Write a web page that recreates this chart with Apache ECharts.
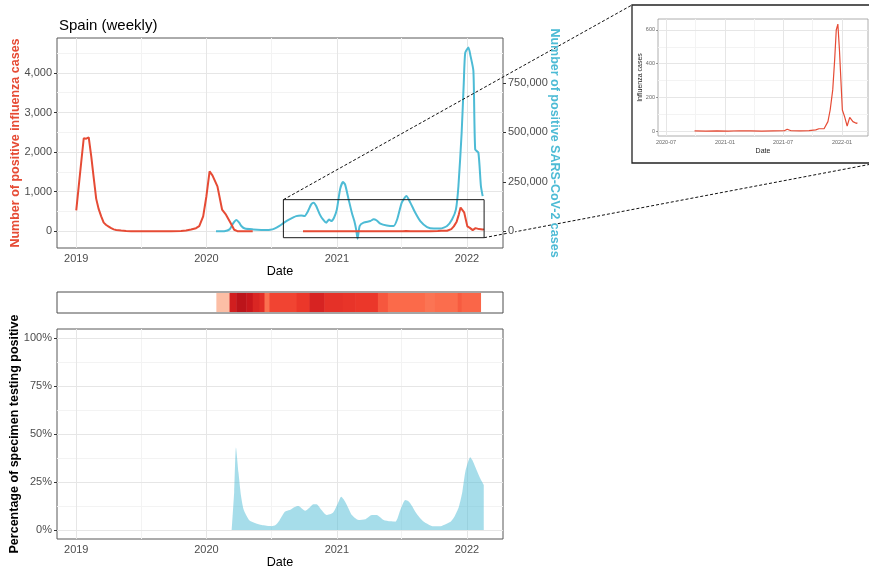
<!DOCTYPE html>
<html><head><meta charset="utf-8">
<script src="https://cdn.jsdelivr.net/npm/echarts@6/dist/echarts.min.js"></script>
<style>html,body{margin:0;padding:0;background:#fff}#c{width:869px;height:570px}</style>
</head><body><div id="c"></div>
<script>
// ---------------- DATA ----------------
const fluCases = [
 ['2019-01-01',530],['2019-01-08',1140],['2019-01-15',1750],['2019-01-22',2350],['2019-01-29',2340],['2019-02-05',2370],
 ['2019-02-12',1900],['2019-02-19',1350],['2019-02-26',820],['2019-03-05',560],['2019-03-12',380],['2019-03-19',220],
 ['2019-03-26',160],['2019-04-02',120],['2019-04-09',80],['2019-04-16',50],['2019-04-23',35],['2019-05-07',20],
 ['2019-05-21',10],['2019-06-04',5],['2019-07-02',3],['2019-08-13',2],['2019-09-24',4],['2019-10-22',10],
 ['2019-11-05',20],['2019-11-19',45],['2019-12-03',80],['2019-12-12',130],['2019-12-23',380],['2020-01-01',880],
 ['2020-01-10',1515],['2020-01-18',1415],['2020-02-01',1135],['2020-02-14',550],['2020-02-25',420],['2020-03-09',210],
 ['2020-03-19',40],['2020-03-28',5],['2020-04-20',2],['2020-05-10',3],['2020-06-01',null],
 ['2020-09-28',2],['2020-11-02',1],['2020-12-07',2],['2021-01-11',1],['2021-02-15',3],['2021-03-22',2],
 ['2021-04-26',1],['2021-05-31',2],['2021-07-05',3],['2021-07-14',12],['2021-07-26',3],['2021-08-23',2],
 ['2021-09-20',4],['2021-10-11',8],['2021-10-21',15],['2021-11-06',15],['2021-11-18',57],['2021-11-25',126],
 ['2021-12-03',245],['2021-12-09',423],['2021-12-14',600],['2021-12-19',635],['2021-12-24',480],['2022-01-02',126],
 ['2022-01-09',87],['2022-01-17',31],['2022-01-25',82],['2022-02-04',57],['2022-02-14',47],['2022-02-18',50]
];
const covidCases = [
 ['2020-01-28',0],['2020-02-20',1000],['2020-03-06',10000],['2020-03-16',40000],['2020-03-25',57000],['2020-04-02',44000],
 ['2020-04-08',27000],['2020-04-18',14000],['2020-05-11',10000],['2020-06-18',7000],['2020-06-28',8000],['2020-07-10',14000],
 ['2020-07-24',28000],['2020-08-07',45000],['2020-08-21',60000],['2020-09-09',77000],['2020-09-23',80000],['2020-10-02',77000],
 ['2020-10-12',102000],['2020-10-21',136000],['2020-10-28',145000],['2020-11-04',128000],['2020-11-14',86000],['2020-11-23',60000],
 ['2020-12-02',44000],['2020-12-10',60000],['2020-12-16',52000],['2020-12-24',69000],['2021-01-01',111000],['2021-01-10',212000],
 ['2021-01-18',249000],['2021-01-24',237000],['2021-02-03',161000],['2021-02-12',94000],['2021-02-19',52000],['2021-02-24',10000],
 ['2021-02-28',-37000],['2021-03-06',27000],['2021-03-17',44000],['2021-04-05',52000],['2021-04-14',61000],['2021-04-22',56000],
 ['2021-05-03',39000],['2021-05-21',30000],['2021-06-09',27000],['2021-06-19',60000],['2021-07-02',145000],['2021-07-15',178000],
 ['2021-07-26',145000],['2021-08-09',94000],['2021-08-23',52000],['2021-09-11',22000],['2021-09-30',14000],['2021-10-18',14000],
 ['2021-11-06',27000],['2021-11-20',60000],['2021-12-01',111000],['2021-12-08',229000],['2021-12-17',498000],['2021-12-23',751000],
 ['2021-12-27',902000],['2022-01-05',928000],['2022-01-11',885000],['2022-01-19',810000],['2022-01-24',414000],['2022-02-02',397000],
 ['2022-02-09',229000],['2022-02-14',178000]
];
const positivity = [
 ['2020-03-12',0],['2020-03-19',20],['2020-03-24',43],['2020-03-31',30],['2020-04-07',18],['2020-04-14',11],['2020-04-21',8],
 ['2020-05-01',5],['2020-05-18',3.5],['2020-06-04',2.6],['2020-07-02',2],['2020-07-13',2.6],['2020-07-24',5],['2020-08-08',9.5],
 ['2020-08-22',10.4],['2020-09-05',12],['2020-09-15',12.5],['2020-10-04',10],['2020-10-15',11.5],['2020-10-27',13.5],
 ['2020-11-05',13.5],['2020-11-19',10.4],['2020-12-03',7.8],['2020-12-21',9],['2021-01-04',14],['2021-01-13',17.4],
 ['2021-01-20',16],['2021-01-29',13],['2021-02-12',7.8],['2021-03-03',5.2],['2021-03-22',5.6],['2021-04-09',7.8],
 ['2021-04-23',7.8],['2021-05-12',5.2],['2021-05-31',4.5],['2021-06-14',4.3],['2021-06-20',6],['2021-06-28',10.4],
 ['2021-07-12',15.6],['2021-07-22',14.8],['2021-07-31',12.5],['2021-08-09',9.5],['2021-08-21',6.5],['2021-09-02',4.3],
 ['2021-09-26',2],['2021-10-19',2],['2021-11-02',3],['2021-11-16',4.3],['2021-11-27',7],['2021-12-09',12],['2021-12-19',20],
 ['2021-12-28',31],['2022-01-10',38],['2022-01-16',36.5],['2022-01-24',33],['2022-02-07',27],['2022-02-17',23.5]
];
// strip: segment starts and levels
const stripStart = ['2020-01-29','2020-03-06','2020-03-25','2020-04-22','2020-05-10','2020-05-29','2020-06-12','2020-06-26',
 '2020-09-10','2020-10-16','2020-11-27','2021-01-18','2021-02-21','2021-04-26','2021-05-24','2021-09-05','2021-10-03',
 '2021-12-06','2021-12-17'];
const stripEndLast = '2022-02-08';
const stripLevel = [24,73,80,76,70,67,48,60,64,71,66,65,64,55,50,47,49,54,51];

const yearTicks = ['2019-01-01','2020-01-01','2021-01-01','2022-01-01'];
const halfYearLines = ['2019-07-02','2020-07-01','2021-07-02'];
const fluTicks = [0,1000,2000,3000,4000];
const fluMinor = [500,1500,2500,3500,4500];
const covidTicks = [0,250000,500000,750000];
const pctTicks = [0,25,50,75,100];
const pctMinor = [12.5,37.5,62.5,87.5];
const insetXTicks = ['2020-07-01','2021-01-01','2021-07-01','2022-01-01'];
const insetXMinor = ['2020-10-01','2021-04-01','2021-10-01'];
const insetYTicks = [0,200,400,600];
const insetYMinor = [100,300,500];
const zoomBoxX = ['2020-08-04','2022-02-18'];
const zoomBoxY = [-160, 800];

// ---------------- CHART ----------------
const ts = s => { const p = s.split('-').map(Number); return new Date(p[0], p[1] - 1, p[2]).getTime(); };
const toXY = arr => arr.map(d => [ts(d[0]), d[1]]);
const FONT = 'Liberation Sans, Arial, Helvetica, sans-serif';
const RED = '#E64B35', BLUE = '#4DBBD5';
const BORDER = '#595959', TICK = '#333333', LABEL = '#4d4d4d';
const majorStyle = {color:'#e6e6e6', width:1, type:'solid'};
const minorStyle = {color:'#f3f3f3', width:1, type:'solid'};
const X0 = ts('2018-11-08'), X1 = ts('2022-04-12');

function gridMarks(xMaj, xMin, yMaj, yMin) {
  const d = [];
  xMin.forEach(v => d.push({xAxis: ts(v), lineStyle: minorStyle}));
  yMin.forEach(v => d.push({yAxis: v, lineStyle: minorStyle}));
  xMaj.forEach(v => d.push({xAxis: ts(v), lineStyle: majorStyle}));
  yMaj.forEach(v => d.push({yAxis: v, lineStyle: majorStyle}));
  return {silent: true, symbol: ['none','none'], label: {show: false}, animation: false, z: 1,
          emphasis: {disabled: true}, data: d};
}
const yearFmt = v => String(new Date(v).getFullYear());
const ymFmt = v => { const d = new Date(v); return d.getFullYear() + '-' + String(d.getMonth()+1).padStart(2,'0'); };
const commaFmt = v => Number(v).toLocaleString('en-US');

function mainX(gi, showLabels) {
  return {
    gridIndex: gi, type: 'value', min: X0, max: X1,
    axisLine: {show: false}, splitLine: {show: false}, minorTick: {show: false},
    axisTick: {show: showLabels, length: 3, customValues: yearTicks.map(ts), lineStyle: {color: TICK}},
    axisLabel: {show: showLabels, customValues: yearTicks.map(ts), formatter: yearFmt, color: LABEL, fontSize: 11, margin: 5, fontFamily: FONT},
    name: showLabels ? 'Date' : '', nameLocation: 'middle', nameGap: 17, nameMoveOverlap: false,
    nameTextStyle: {color: '#000', fontSize: 12.6, fontFamily: FONT}
  };
}
const gridBase = {show: true, backgroundColor: 'transparent', containLabel: false, outerBoundsMode: 'none'};

const stripData = stripStart.map((s, i) => [ts(s), ts(i + 1 < stripStart.length ? stripStart[i+1] : stripEndLast), stripLevel[i]]);
const insetFlu = toXY(fluCases.filter(d => d[1] !== null && ts(d[0]) >= ts('2020-09-28')));

const chart = echarts.init(document.getElementById('c'));
chart.setOption({
  animation: false,
  backgroundColor: '#fff',
  textStyle: {fontFamily: FONT},
  title: {text: 'Spain (weekly)', left: 54, top: 13, textStyle: {fontSize: 15, fontWeight: 'normal', color: '#000', fontFamily: FONT}},
  grid: [
    Object.assign({left: 57, top: 38, width: 446, height: 210, borderColor: BORDER, borderWidth: 1}, gridBase),
    Object.assign({left: 57, top: 292, width: 446, height: 21, borderColor: '#4d4d4d', borderWidth: 1}, gridBase),
    Object.assign({left: 57, top: 329, width: 446, height: 210, borderColor: BORDER, borderWidth: 1}, gridBase),
    Object.assign({left: 658, top: 19, width: 210, height: 117, borderColor: '#9a9a9a', borderWidth: 0.8}, gridBase)
  ],
  xAxis: [
    mainX(0, true),
    mainX(1, false),
    mainX(2, true),
    {gridIndex: 3, type: 'value', min: ts('2020-06-06'), max: ts('2022-03-23'),
     axisLine: {show: false}, splitLine: {show: false},
     axisTick: {length: 2, customValues: insetXTicks.map(ts), lineStyle: {color: '#555', width: 0.6}},
     axisLabel: {customValues: insetXTicks.map(ts), formatter: ymFmt, color: '#666', fontSize: 5.5, margin: 3},
     name: 'Date', nameLocation: 'middle', nameGap: 12, nameMoveOverlap: false, nameTextStyle: {color: '#222', fontSize: 7}}
  ],
  yAxis: [
    {gridIndex: 0, type: 'value', min: -420, max: 4880, position: 'left',
     axisLine: {show: false}, splitLine: {show: false},
     axisTick: {show: true, length: 3, customValues: fluTicks, lineStyle: {color: TICK}},
     axisLabel: {customValues: fluTicks, formatter: commaFmt, color: LABEL, fontSize: 11, margin: 5},
     name: 'Number of positive influenza cases', nameLocation: 'middle', nameGap: 35, nameMoveOverlap: false,
     nameTextStyle: {color: RED, fontSize: 12.5, fontWeight: 'bold'}},
    {gridIndex: 0, type: 'value', min: -84050, max: 976550, position: 'right', z: 10,
     axisLine: {show: false}, splitLine: {show: false},
     axisTick: {show: true, length: 3, customValues: covidTicks, lineStyle: {color: TICK}},
     axisLabel: {customValues: covidTicks, formatter: commaFmt, color: LABEL, fontSize: 11, margin: 4,
                 backgroundColor: '#fff', padding: [0, 1]},
     name: 'Number of positive SARS-CoV-2 cases', nameLocation: 'middle', nameGap: 45, nameRotate: -90, nameMoveOverlap: false,
     nameTextStyle: {color: BLUE, fontSize: 12.5, fontWeight: 'bold'}},
    {gridIndex: 1, type: 'value', min: -0.05, max: 1.05, show: false},
    {gridIndex: 2, type: 'value', min: -4.7, max: 104.9,
     axisLine: {show: false}, splitLine: {show: false},
     axisTick: {show: true, length: 3, customValues: pctTicks, lineStyle: {color: TICK}},
     axisLabel: {customValues: pctTicks, formatter: v => v + '%', color: LABEL, fontSize: 11, margin: 5},
     name: 'Percentage of specimen testing positive', nameLocation: 'middle', nameGap: 36, nameMoveOverlap: false,
     nameTextStyle: {color: '#000', fontSize: 12.5, fontWeight: 'bold'}},
    {gridIndex: 3, type: 'value', min: -28, max: 665,
     axisLine: {show: false}, splitLine: {show: false},
     axisTick: {length: 2, customValues: insetYTicks, lineStyle: {color: '#555', width: 0.6}},
     axisLabel: {customValues: insetYTicks, color: '#666', fontSize: 5.5, margin: 3},
     name: 'Influenza cases', nameLocation: 'middle', nameGap: 14, nameMoveOverlap: false, nameTextStyle: {color: '#222', fontSize: 7}}
  ],
  visualMap: [{type: 'continuous', show: false, seriesIndex: 2, dimension: 2, min: 0, max: 100,
    inRange: {color: ['#fff5f0','#fee0d2','#fcbba1','#fc9272','#fb6a4a','#ef3b2c','#cb181d','#a50f15','#67000d']}}],
  series: [
    {name: 'covid', type: 'line', xAxisIndex: 0, yAxisIndex: 1, data: toXY(covidCases), showSymbol: false, smooth: 0.2,
     lineStyle: {color: BLUE, width: 2}, itemStyle: {color: BLUE}, z: 3},
    {name: 'flu', type: 'line', xAxisIndex: 0, yAxisIndex: 0, data: toXY(fluCases), showSymbol: false, connectNulls: false,
     lineStyle: {color: RED, width: 2}, itemStyle: {color: RED}, z: 4,
     markLine: gridMarks(yearTicks, halfYearLines, fluTicks, fluMinor),
     markArea: {silent: true, z: 5, itemStyle: {color: 'rgba(0,0,0,0)', borderColor: '#1a1a1a', borderWidth: 1},
       data: [[{xAxis: ts(zoomBoxX[0]), yAxis: zoomBoxY[1]}, {xAxis: ts(zoomBoxX[1]), yAxis: zoomBoxY[0]}]]}},
    {name: 'strip', type: 'custom', xAxisIndex: 1, yAxisIndex: 2, data: stripData,
     encode: {x: [0, 1], y: 2},
     renderItem: function (params, api) {
       const a = api.coord([api.value(0), 1]);
       const b = api.coord([api.value(1), 0]);
       return {type: 'rect', shape: {x: a[0], y: a[1], width: b[0] - a[0] + 0.5, height: b[1] - a[1]},
               style: {fill: api.visual('color')}};
     }},
    {name: 'positivity', type: 'line', xAxisIndex: 2, yAxisIndex: 3, data: toXY(positivity), showSymbol: false, smooth: 0.2,
     lineStyle: {width: 0}, areaStyle: {color: 'rgba(77,187,213,0.5)', opacity: 1}, z: 3,
     markLine: gridMarks(yearTicks, halfYearLines, pctTicks, pctMinor)},
    {name: 'fluInset', type: 'line', xAxisIndex: 3, yAxisIndex: 4, data: insetFlu, showSymbol: false,
     lineStyle: {color: RED, width: 1.2}, itemStyle: {color: RED}, z: 3,
     markLine: gridMarks(insetXTicks, insetXMinor, insetYTicks, insetYMinor)}
  ]
});

// connectors from zoom box to inset frame
const p0 = chart.convertToPixel({xAxisIndex: 0, yAxisIndex: 0}, [ts(zoomBoxX[0]), zoomBoxY[1]]);
const p1 = chart.convertToPixel({xAxisIndex: 0, yAxisIndex: 0}, [ts(zoomBoxX[1]), zoomBoxY[0]]);
const frame = {x: 632, y: 5, w: 245, h: 158};
chart.setOption({
  graphic: [
    {type: 'rect', z: 6, shape: {x: frame.x, y: frame.y, width: frame.w, height: frame.h},
     style: {fill: 'none', stroke: '#222', lineWidth: 1.3}},
    {type: 'line', z: 5, shape: {x1: p0[0], y1: p0[1], x2: frame.x, y2: frame.y},
     style: {stroke: '#111', lineWidth: 1, lineDash: [3, 2]}},
    {type: 'line', z: 5, shape: {x1: p1[0], y1: p1[1], x2: frame.x + frame.w, y2: frame.y + frame.h},
     style: {stroke: '#111', lineWidth: 1, lineDash: [3, 2]}}
  ]
});
</script>
</body></html>
